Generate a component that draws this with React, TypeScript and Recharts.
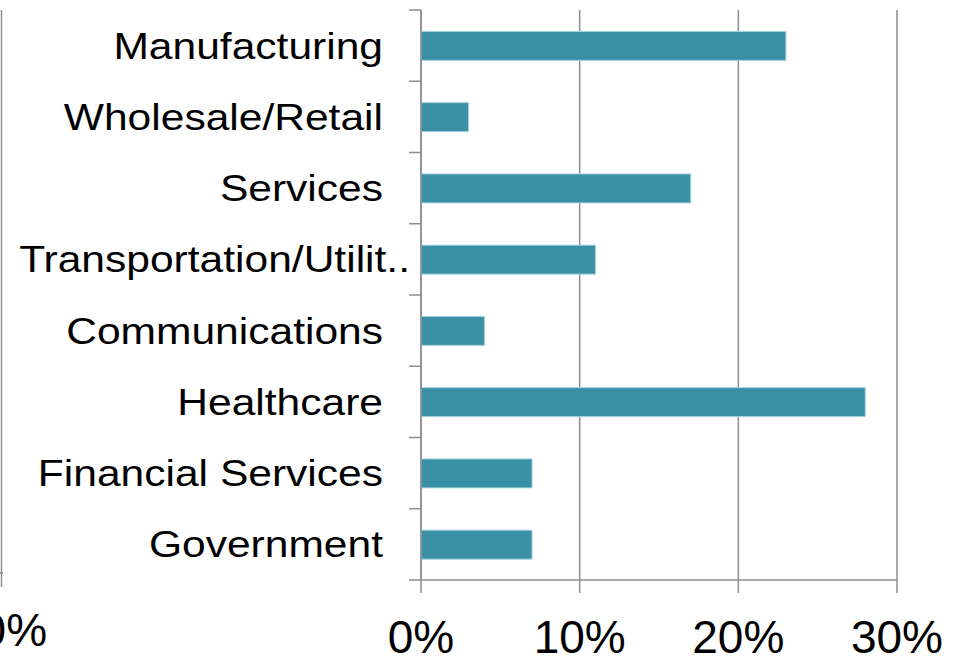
import React from "react";
import { BarChart, Bar, XAxis, YAxis, CartesianGrid } from "recharts";

const industries = [
  "Manufacturing",
  "Wholesale/Retail",
  "Services",
  "Transportation/Utilit..",
  "Communications",
  "Healthcare",
  "Financial Services",
  "Government",
];
const shares = [23, 3, 17, 11, 4, 28, 7, 7];
const xTicks = [0, 10, 20, 30];

const data = industries.map((name, i) => ({ name, value: shares[i] }));

const GRID = "#8e8e8e";
const FONT = "'Liberation Sans', Arial, Helvetica, sans-serif";

const CategoryTick = (props: any) => {
  const { x, y, payload, index, height } = props;
  const plotH = typeof height === "number" && height > 0 ? height : 570;
  const half = plotH / industries.length / 2;
  const last = index === industries.length - 1;
  const label = String(payload.value);
  const truncated = label.endsWith("..");
  const tx = truncated ? x - 11 : x - 38;
  return (
    <g>
      <line x1={x - 12} x2={x} y1={y - half} y2={y - half} stroke={GRID} strokeWidth={1.5} />
      {last && (
        <line x1={x - 12} x2={x} y1={y + half} y2={y + half} stroke={GRID} strokeWidth={1.5} />
      )}
      <text
        transform={`translate(${tx},${y + 13}) scale(1.15,1)`}
        textAnchor="end"
        fontSize={37}
        fontFamily={FONT}
        fill="#000"
      >
        {label}
      </text>
    </g>
  );
};

export default function App() {
  return (
    <div style={{ position: "absolute", left: 0, top: 0, width: 958, height: 658, background: "#fff" }}>
      <BarChart
        width={958}
        height={658}
        data={data}
        layout="vertical"
        margin={{ top: 10, right: 61, bottom: 0, left: 0 }}
        barCategoryGap="30%"
      >
        <CartesianGrid vertical={true} horizontal={false} stroke={GRID} strokeWidth={1.5} />
        <XAxis
          type="number"
          domain={[0, 30]}
          ticks={xTicks}
          tickFormatter={(v: number) => `${v}%`}
          height={78}
          axisLine={{ stroke: GRID, strokeWidth: 1.5 }}
          tickLine={{ stroke: GRID, strokeWidth: 1.5 }}
          tickSize={13}
          tickMargin={27}
          tick={{ fontSize: 46, fill: "#000", fontFamily: FONT }}
          interval={0}
        />
        <YAxis
          type="category"
          dataKey="name"
          width={421}
          axisLine={{ stroke: GRID, strokeWidth: 1.5 }}
          tickLine={false}
          tickSize={0}
          tickMargin={0}
          tick={<CategoryTick />}
          interval={0}
        />
        <Bar dataKey="value" fill="#3a91a7" stroke="#a8d4df" strokeWidth={1} isAnimationActive={false} />
      </BarChart>
      <svg
        width={958}
        height={658}
        style={{ position: "absolute", left: 0, top: 0, pointerEvents: "none" }}
      >
        <line x1={1.5} x2={1.5} y1={10} y2={587} stroke={GRID} strokeWidth={1.5} />
        <line x1={0} x2={3} y1={573} y2={573} stroke={GRID} strokeWidth={1.5} />
        <text x={1} y={646} textAnchor="middle" fontSize={46} fontFamily={FONT} fill="#000">
          30%
        </text>
      </svg>
    </div>
  );
}
